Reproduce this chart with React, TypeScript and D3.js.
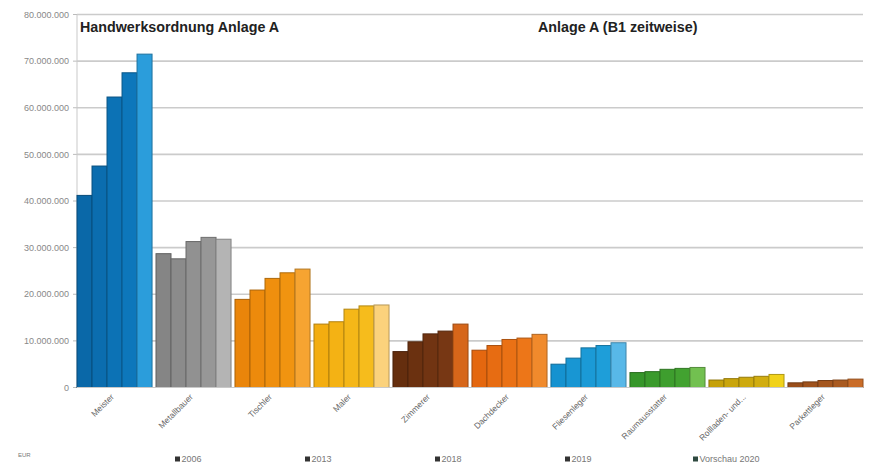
import React from "react";
import * as d3 from "d3";

const categories = [
  "Meister",
  "Metallbauer",
  "Tischler",
  "Maler",
  "Zimmerer",
  "Dachdecker",
  "Fliesenleger",
  "Raumausstatter",
  "Rollladen- und...",
  "Parkettleger",
];

const years = ["2006", "2013", "2018", "2019", "Vorschau 2020"];

// Values in EUR, one array per year
const v2006 = [41.2e6, 28.7e6, 18.9e6, 13.6e6, 7.7e6, 8.0e6, 5.0e6, 3.2e6, 1.6e6, 1.0e6];
const v2013 = [47.5e6, 27.6e6, 20.9e6, 14.1e6, 9.8e6, 9.0e6, 6.3e6, 3.4e6, 1.9e6, 1.2e6];
const v2018 = [62.3e6, 31.3e6, 23.4e6, 16.8e6, 11.5e6, 10.3e6, 8.5e6, 3.9e6, 2.2e6, 1.5e6];
const v2019 = [67.5e6, 32.2e6, 24.6e6, 17.5e6, 12.1e6, 10.6e6, 9.0e6, 4.1e6, 2.4e6, 1.6e6];
const v2020 = [71.5e6, 31.8e6, 25.4e6, 17.7e6, 13.6e6, 11.4e6, 9.6e6, 4.3e6, 2.8e6, 1.8e6];

const seriesValues = [v2006, v2013, v2018, v2019, v2020];

const yTicks = [0, 10e6, 20e6, 30e6, 40e6, 50e6, 60e6, 70e6, 80e6];

// Per-category palette: four year shades plus the lighter forecast shade
const palettes = [
  ["#0a68a8", "#0b6daf", "#0c72b5", "#0d77bb", "#2b9ddb"],
  ["#858585", "#8b8b8b", "#919191", "#979797", "#b4b4b4"],
  ["#ea850a", "#ed8a0c", "#ef8f0e", "#f19410", "#f6a431"],
  ["#f3ad10", "#f4b214", "#f5b718", "#f6bc1c", "#fbd27c"],
  ["#652e0e", "#6b3110", "#713412", "#773714", "#d6661a"],
  ["#e4670f", "#e76c12", "#ea7115", "#ed7618", "#f08a2c"],
  ["#1592d0", "#1896d3", "#1b9ad6", "#1e9ed9", "#58b8e8"],
  ["#36962a", "#3a9a2c", "#3e9e2e", "#42a230", "#72c050"],
  ["#c5a10a", "#c9a50c", "#cda90e", "#d1ad10", "#f1d21a"],
  ["#9a4e1a", "#9f521c", "#a4561e", "#a95a20", "#c96c28"],
];

const W = 877;
const H = 466;
const left = 77;
const right = 863;
const top = 14.5;
const bottom = 387.5;

const fmt = (v: number) => d3.format(",")(v).replace(/,/g, ".");

export default function App() {
  const x = d3
    .scaleBand<string>()
    .domain(categories)
    .range([left, right])
    .paddingInner(0.05)
    .paddingOuter(0);
  const xi = d3
    .scaleBand<string>()
    .domain(years)
    .range([0, x.bandwidth()])
    .padding(0);
  const y = d3.scaleLinear().domain([0, 80e6]).range([bottom, top]);

  const legendX = [175, 305, 435, 565, 693];

  return (
    <svg
      width={W}
      height={H}
      style={{ position: "absolute", left: 0, top: 0, background: "#fff" }}
      fontFamily="Liberation Sans, Arial, sans-serif"
    >
      {/* grid */}
      {yTicks.map((t) => (
        <g key={t}>
          {t > 0 && (
            <line
              x1={left}
              x2={right}
              y1={y(t)}
              y2={y(t)}
              stroke="#cbcbcb"
              strokeWidth={1.6}
            />
          )}
          <line x1={left - 4} x2={left} y1={y(t)} y2={y(t)} stroke="#bbb" />
          <text
            x={left - 8}
            y={y(t)}
            dy="0.35em"
            textAnchor="end"
            fontSize={9}
            fill="#888"
          >
            {fmt(t)}
          </text>
        </g>
      ))}
      <line x1={left} x2={left} y1={top} y2={bottom} stroke="#c9c9c9" />

      {/* bars */}
      {categories.map((c, ci) => (
        <g key={c} transform={`translate(${x(c)},0)`}>
          {years.map((yr, si) => {
            const v = seriesValues[si][ci];
            const fill = palettes[ci][si];
            return (
              <rect
                key={yr}
                x={xi(yr)}
                y={y(v)}
                width={xi.bandwidth()}
                height={bottom - y(v)}
                fill={fill}
                stroke={d3.color(fill)!.darker(0.9).formatHex()}
                strokeWidth={1}
              />
            );
          })}
        </g>
      ))}
      <line x1={left} x2={right} y1={bottom} y2={bottom} stroke="#c9c9c9" />

      {/* category labels */}
      {categories.map((c) => (
        <text
          key={c}
          transform={`translate(${x(c)! + x.bandwidth() / 2},${bottom + 10}) rotate(-45)`}
          textAnchor="end"
          fontSize={8.5}
          fill="#666"
        >
          {c}
        </text>
      ))}

      {/* headings */}
      <text x={80} y={32} fontSize={14.3} fontWeight="bold" fill="#222">
        Handwerksordnung Anlage A
      </text>
      <text x={538} y={32} fontSize={14.3} fontWeight="bold" fill="#222">
        Anlage A (B1 zeitweise)
      </text>

      {/* unit */}
      <text x={18} y={457} fontSize={6} fill="#777">
        EUR
      </text>

      {/* legend */}
      {years.map((yr, i) => (
        <g key={yr} transform={`translate(${legendX[i]},459)`}>
          <rect
            x={0}
            y={-2.5}
            width={5}
            height={5}
            fill={i === 4 ? "#2f4a40" : "#333"}
          />
          <text x={6.5} y={0} dy="0.35em" fontSize={9} fill="#777">
            {yr}
          </text>
        </g>
      ))}
    </svg>
  );
}
